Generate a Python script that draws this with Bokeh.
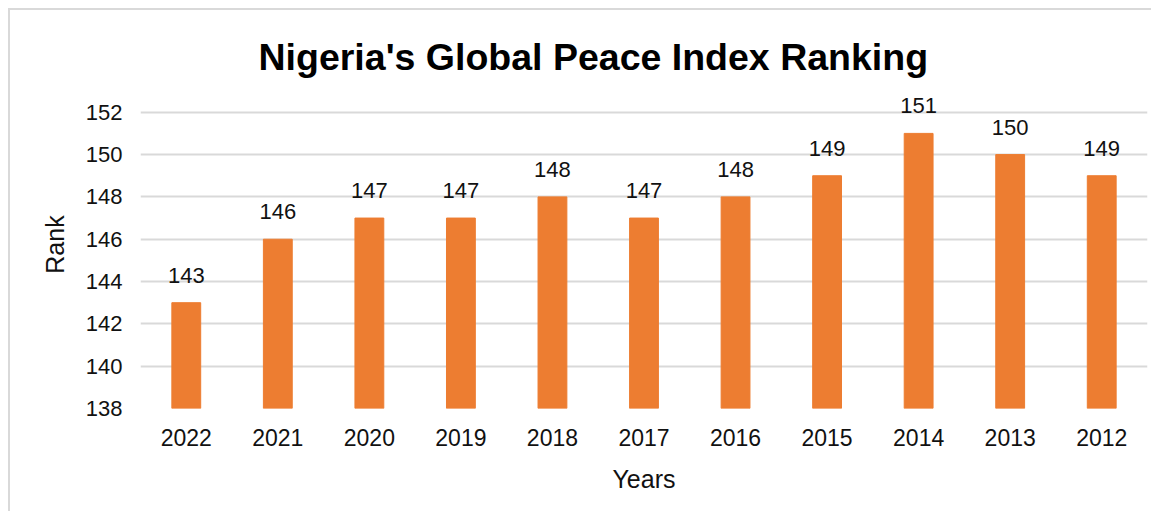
from bokeh.plotting import figure
from bokeh.models import ColumnDataSource, FixedTicker, LabelSet, Range1d
from bokeh.core.properties import value
from bokeh.embed import file_html
from bokeh.resources import INLINE

years = ["2022", "2021", "2020", "2019", "2018", "2017", "2016", "2015", "2014", "2013", "2012"]
ranks = [143, 146, 147, 147, 148, 147, 148, 149, 151, 150, 149]
y_ticks = [138, 140, 142, 144, 146, 148, 150, 152]

FONT = "Liberation Sans"
src = ColumnDataSource(dict(x=years, top=ranks, label=[str(r) for r in ranks]))

p = figure(x_range=years, y_range=Range1d(138, 153.5), width=1143, height=503,
           output_backend="svg", toolbar_location=None,
           title="Nigeria's Global Peace Index Ranking",
           min_border_left=130, min_border_right=6, min_border_top=70, min_border_bottom=105)
p.styles = {"border-top": "2px solid #d9d9d9", "border-left": "2px solid #d9d9d9",
            "margin-top": "8px", "margin-left": "8px"}

p.vbar(x="x", top="top", bottom=138, width=0.315, source=src, color="#ED7D31")
p.add_layout(LabelSet(x="x", y="top", text="label", source=src, text_align="center",
                      text_baseline="alphabetic", y_offset=20, text_font_size="22px",
                      text_font=value(FONT), text_color="#111111"))

p.title.align = "left"
p.title.offset = 118
p.title.text_font = FONT
p.title.text_font_size = "37.5px"
p.title.text_font_style = "bold"
p.title.text_color = "#000000"
p.title.standoff = 5

p.outline_line_color = None
p.xgrid.grid_line_color = None
p.ygrid.grid_line_color = "#d9d9d9"
p.ygrid.grid_line_width = 2
p.yaxis.ticker = FixedTicker(ticks=y_ticks)

for ax in (p.xaxis, p.yaxis):
    ax.axis_line_color = None
    ax.major_tick_line_color = None
    ax.minor_tick_line_color = None
    ax.major_label_text_font = FONT
    ax.major_label_text_color = "#111111"
    ax.axis_label_text_font = FONT
    ax.axis_label_text_font_size = "25px"
    ax.axis_label_text_font_style = "normal"
    ax.axis_label_text_color = "#111111"

p.yaxis.major_label_text_font_size = "22px"
p.xaxis.major_label_text_font_size = "23px"
p.yaxis.axis_label = "Rank"
p.yaxis.major_label_standoff = 12
p.yaxis.axis_label_standoff = 14
p.xaxis.axis_label = "Years"
p.xaxis.major_label_standoff = 14
p.xaxis.axis_label_standoff = 16

open("out.html", "w").write(file_html(p, INLINE))
